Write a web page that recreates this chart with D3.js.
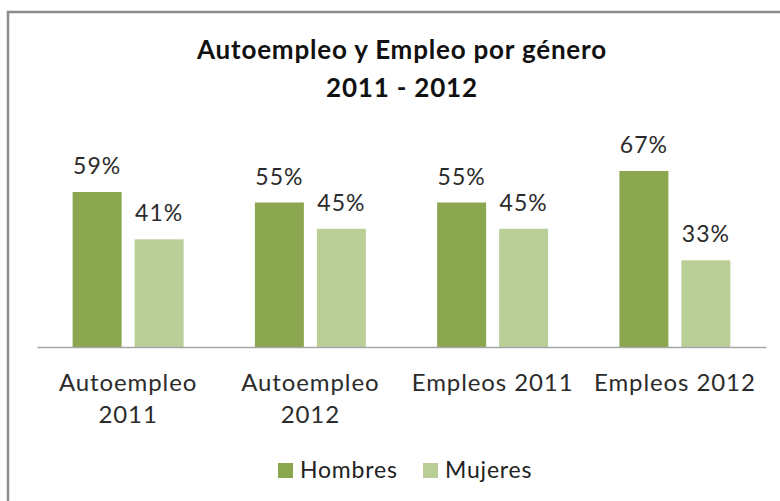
<!DOCTYPE html>
<html>
<head>
<meta charset="utf-8">
<script src="https://cdn.jsdelivr.net/npm/d3@7"></script>
<style>
  body { margin: 0; background: #fff; }
  svg text { font-family: Lato, "Open Sans", sans-serif; }
</style>
</head>
<body>
<svg width="780" height="501"></svg>
<script>
const categories = ["Autoempleo 2011", "Autoempleo 2012", "Empleos 2011", "Empleos 2012"];
const categoryLines = [["Autoempleo", "2011"], ["Autoempleo", "2012"], ["Empleos 2011"], ["Empleos 2012"]];
const seriesNames = ["Hombres", "Mujeres"];
const hombres = [59, 55, 55, 67];
const mujeres = [41, 45, 45, 33];
const colors = ["#8aa64e", "#bacf97"];

const svg = d3.select("svg");

// chart border (runs off the right and bottom edges like the original)
svg.append("rect")
  .attr("x", 8).attr("y", 12)
  .attr("width", 800).attr("height", 520)
  .attr("fill", "none")
  .attr("stroke", "#8c8c8c")
  .attr("stroke-width", 2.5);

// title
const title = svg.append("text")
  .attr("text-anchor", "middle")
  .attr("font-weight", "bold")
  .attr("font-size", 26)
  .attr("letter-spacing", 0.8)
  .attr("fill", "#111");
title.append("tspan").attr("x", 402).attr("y", 59).text("Autoempleo y Empleo por género");
title.append("tspan").attr("x", 402).attr("y", 97).text("2011 - 2012");

const baseline = 347;

const x = d3.scaleBand()
  .domain(categories)
  .range([37, 766]);

const xInner = d3.scaleBand()
  .domain(seriesNames)
  .range([0, x.bandwidth()])
  .paddingInner(0.21)
  .paddingOuter(0.575);

const y = d3.scaleLinear()
  .domain([0, 80])
  .range([baseline, baseline - 80 * 2.627]);

const rows = categories.map((c, i) => ({
  category: c,
  values: [
    { series: "Hombres", value: hombres[i] },
    { series: "Mujeres", value: mujeres[i] },
  ],
}));

const groups = svg.selectAll(".group")
  .data(rows)
  .enter()
  .append("g")
  .attr("class", "group")
  .attr("transform", (d) => `translate(${x(d.category)},0)`);

groups.selectAll("rect")
  .data((d) => d.values)
  .enter()
  .append("rect")
  .attr("x", (d) => xInner(d.series))
  .attr("y", (d) => y(d.value))
  .attr("width", xInner.bandwidth())
  .attr("height", (d) => y(0) - y(d.value))
  .attr("fill", (d, i) => colors[i]);

groups.selectAll(".label")
  .data((d) => d.values)
  .enter()
  .append("text")
  .attr("class", "label")
  .attr("x", (d) => xInner(d.series) + xInner.bandwidth() / 2)
  .attr("y", (d) => y(d.value) - 18)
  .attr("text-anchor", "middle")
  .attr("font-size", 23)
  .attr("letter-spacing", 1)
  .attr("fill", "#2b2b2b")
  .text((d) => d.value + "%");

// axis line
const axis = svg.append("g")
  .attr("transform", `translate(0,${baseline})`)
  .call(d3.axisBottom(x).tickSize(0).tickFormat(""));
axis.select(".domain").attr("stroke", "#a6a6a6").attr("stroke-width", 1.5);

// category labels
categories.forEach((c, i) => {
  const t = svg.append("text")
    .attr("text-anchor", "middle")
    .attr("font-size", 24)
    .attr("letter-spacing", 0.9)
    .attr("fill", "#2b2b2b");
  categoryLines[i].forEach((line, j) => {
    t.append("tspan")
      .attr("x", x(c) + x.bandwidth() / 2)
      .attr("y", 391 + j * 32)
      .text(line);
  });
});

// legend
const legendX = [278, 423];
const legend = svg.selectAll(".legend")
  .data(seriesNames)
  .enter()
  .append("g")
  .attr("class", "legend")
  .attr("transform", (d, i) => `translate(${legendX[i]},463)`);

legend.append("rect")
  .attr("width", 15).attr("height", 15)
  .attr("fill", (d, i) => colors[i]);

legend.append("text")
  .attr("x", 22)
  .attr("y", 15)
  .attr("font-size", 23)
  .attr("letter-spacing", 0.8)
  .attr("fill", "#222")
  .text((d) => d);
</script>
</body>
</html>
